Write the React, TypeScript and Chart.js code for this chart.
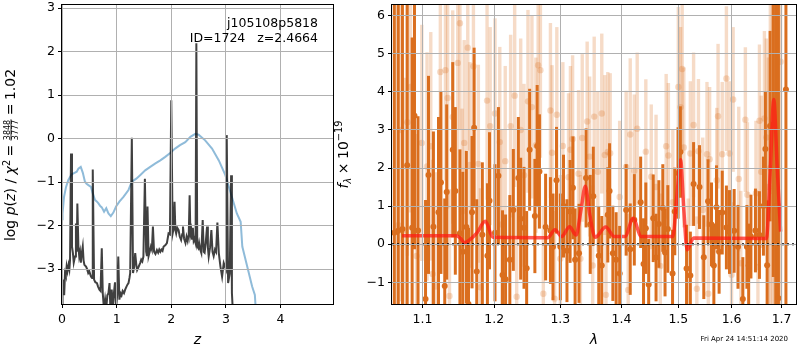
import React, { useEffect, useRef } from "react";
import { Chart, registerables } from "chart.js";

Chart.register(...registerables);

const FONT = '"DejaVu Sans", sans-serif';

// ---------------- Left panel: p(z) and chi2 ----------------
const pzZ = [
  0.0, 0.01, 0.025, 0.04, 0.055, 0.07, 0.085, 0.1, 0.12, 0.135, 0.147, 0.165, 0.183, 0.2, 0.215, 0.238,
  0.255, 0.27, 0.281, 0.3, 0.315, 0.33, 0.345, 0.36, 0.38, 0.395, 0.41, 0.44, 0.46, 0.48, 0.5, 0.53,
  0.55, 0.563, 0.587, 0.61, 0.64, 0.66, 0.685, 0.705, 0.728, 0.746, 0.77, 0.79, 0.81, 0.83, 0.85,
  0.87, 0.885, 0.91, 0.93, 0.95, 0.97, 0.99, 1.01, 1.03, 1.05, 1.07, 1.09, 1.11, 1.135, 1.156, 1.18,
  1.2, 1.217, 1.235, 1.248, 1.278, 1.3, 1.32, 1.34, 1.36, 1.375, 1.4, 1.43, 1.45, 1.47, 1.49, 1.517,
  1.54, 1.555, 1.565, 1.585, 1.605, 1.627, 1.645, 1.664, 1.685, 1.71, 1.737, 1.76, 1.78, 1.8, 1.82,
  1.84, 1.86, 1.89, 1.92, 1.95, 1.975, 2.0, 2.025, 2.045, 2.06, 2.075, 2.09, 2.11, 2.134, 2.155, 2.18,
  2.2, 2.214, 2.235, 2.26, 2.28, 2.3, 2.32, 2.336, 2.35, 2.365, 2.38, 2.395, 2.41, 2.425, 2.445, 2.459,
  2.475, 2.495, 2.51, 2.53, 2.55, 2.575, 2.595, 2.61, 2.63, 2.655, 2.67, 2.685, 2.71, 2.734, 2.755,
  2.776, 2.8, 2.82, 2.844, 2.87, 2.9, 2.93, 2.96, 2.985, 3.0, 3.015, 3.04, 3.07, 3.095, 3.11, 3.14,
];
const pzLog = [
  -3.9, -3.4, -3.24, -3.6, -3.09, -3.15, -2.94, -3.05, -2.9, -3.0, -2.79, -0.34, -2.48, -2.63, -2.85, -2.71,
  -1.95, -2.6, -1.49, -2.48, -2.7, -2.6, -2.85, -2.65, -2.48, -2.8, -2.9, -2.94, -3.0, -3.09, -3.05, -3.17,
  -3.2, -0.71, -3.24, -3.3, -3.32, -3.4, -3.47, -3.5, -2.52, -3.55, -3.95, -3.7, -3.9, -3.6, -3.55,
  -3.32, -3.9, -3.47, -3.9, -3.55, -3.3, -3.9, -3.6, -2.71, -3.7, -3.55, -3.6, -3.5, -3.55, -3.47, -3.4,
  -3.35, -3.32, -3.2, -3.09, 0.02, -3.09, -2.95, -2.63, -2.9, -3.02, -2.95, -2.86, -2.78, -2.82, -2.71, -0.92,
  -2.6, -2.7, -1.56, -2.7, -2.6, -2.48, -2.55, -2.02, -2.6, -2.65, -2.56, -2.62, -2.55, -2.6, -2.55,
  -2.58, -2.48, -2.45, -2.4, -2.18, -2.2, 0.88, -2.18, -2.05, -1.45, -2.1, -2.18, -2.05, -2.1, -2.25, -2.33,
  -2.2, -2.02, -2.3, -2.4, -2.25, -2.35, -2.2, -1.3, -2.2, -2.1, -2.3, -2.05, -2.35, -2.3, -2.4, 2.19,
  -2.48, -2.52, -2.4, -2.55, -2.63, -1.87, -2.6, -2.62, -2.4, -2.02, -2.5, -2.71, -2.5, -2.1, -2.6,
  -2.7, -2.55, -2.6, -1.93, -2.63, -2.94, -3.17, -2.86, -2.95, -3.0, 0.08, -3.32, -3.1, -0.84, -3.55, -4.3,
];
const chiZ = [
  0.0, 0.01, 0.037, 0.074, 0.116, 0.177, 0.238, 0.27, 0.3, 0.343, 0.38, 0.42, 0.45, 0.483, 0.53, 0.563,
  0.605, 0.64, 0.667, 0.7, 0.728, 0.77, 0.81, 0.85, 0.893, 0.94, 0.99, 1.05, 1.125, 1.217, 1.278, 1.36,
  1.43, 1.523, 1.615, 1.71, 1.8, 1.89, 1.98, 2.07, 2.16, 2.257, 2.35, 2.44, 2.5, 2.62, 2.746, 2.87,
  2.99, 3.11, 3.2, 3.27, 3.3, 3.39, 3.48, 3.53, 3.55,
];
const chiVal = [
  -1.85, -1.72, -1.34, -1.11, -0.95, -0.82, -0.78, -0.76, -0.69, -0.65, -0.78, -0.99, -1.04, -1.07, -1.11, -1.26,
  -1.41, -1.45, -1.49, -1.55, -1.58, -1.68, -1.6, -1.72, -1.78, -1.7, -1.56, -1.45, -1.34, -1.18, -0.99, -0.92,
  -0.84, -0.73, -0.65, -0.57, -0.5, -0.42, -0.33, -0.23, -0.15, -0.08, 0.04, 0.11, 0.09, -0.04, -0.23, -0.5,
  -0.84, -1.34, -1.72, -1.91, -2.48, -2.94, -3.4, -3.59, -4.0,
];
const zTicks = [0, 1, 2, 3, 4];
const pzTicks = [-3, -2, -1, 0, 1, 2, 3];

// ---------------- Right panel: spectrum ----------------
const darkWave = [
  1.063, 1.068, 1.0735, 1.0797, 1.0862, 1.0893, 1.094, 1.104, 1.108, 1.1146,
  1.1215, 1.1248, 1.13, 1.1327, 1.141, 1.1446, 1.151, 1.155, 1.16, 1.163,
  1.168, 1.171, 1.1747, 1.1827, 1.19, 1.193, 1.201, 1.206, 1.212, 1.2165,
  1.2228, 1.228, 1.2355, 1.239, 1.244, 1.248, 1.2525, 1.2605, 1.264, 1.2675,
  1.277, 1.2845, 1.2885, 1.294, 1.3, 1.305, 1.3105, 1.3155, 1.32, 1.3235,
  1.3298, 1.3412, 1.348, 1.353, 1.362, 1.367, 1.377, 1.38, 1.3855, 1.391,
  1.397, 1.408, 1.415, 1.422, 1.433, 1.438, 1.442, 1.447, 1.455, 1.46,
  1.465, 1.472, 1.476, 1.481, 1.4895, 1.4935, 1.4995, 1.5037, 1.515, 1.522,
  1.528, 1.539, 1.547, 1.555, 1.5615, 1.566, 1.571, 1.576, 1.582, 1.59,
  1.596, 1.605, 1.6125, 1.622, 1.63, 1.6335, 1.638, 1.647, 1.655, 1.663,
  1.667, 1.6705, 1.6765, 1.683, 1.688, 1.6935, 1.709,
];
const darkFlux = [
  0.3, 0.35, 0.4, 2.07, 0.43, 3.37, 0.36, -1.44, 1.82, 0.46,
  0.84, 1.62, -1.1, 1.37, 2.48, 1.4, 0.29, -0.2, 0.45, -1.57,
  0.84, 3.06, -0.72, 0.25, -0.3, 1.14, 0.3, 1.8, -0.81, -0.92,
  -0.41, 0.9, 1.74, 0.67, 0.43, -0.63, 2.48, 0.74, 2.58, 1.91,
  0.45, 0.36, -0.07, 1.68, -0.07, 1.0, -0.17, 0.86, 1.48, -0.41,
  -0.24, 1.74, 0.52, 1.26, -0.3, -0.56, 0.77, 1.4, -0.24, -0.41,
  -0.77, 0.9, -0.13, 0.64, 1.1, -0.52, 0.42, -1.06, 0.68, -0.35,
  0.53, 0.95, -0.22, 0.4, -0.77, 0.86, 1.87, 2.42, -0.64, -0.82,
  1.58, 1.5, -0.34, 1.13, 0.52, -0.56, 0.97, -0.2, 0.83, 0.44,
  0.32, 0.35, -0.07, -1.44, -0.07, -0.56, 0.2, 0.36, 0.24, 1.0,
  2.5, -0.55, 3.1, 3.14, 1.0, -1.42, 4.06,
];
const darkErr = [
  9.0, 9.0, 8.0, 4.5, 5.0, 3.5, 3.0, 2.6, 2.6, 2.5,
  2.5, 2.4, 2.3, 2.3, 2.3, 2.2, 2.2, 2.1, 2.0, 2.0,
  2.0, 2.1, 1.9, 1.9, 1.9, 1.8, 1.8, 1.8, 1.7, 1.7,
  1.7, 1.6, 1.6, 1.6, 1.6, 1.5, 1.6, 1.5, 1.6, 1.5,
  1.4, 1.4, 1.4, 1.4, 1.4, 1.35, 1.35, 1.35, 1.35, 1.35,
  1.3, 1.3, 1.3, 1.3, 1.3, 1.3, 1.25, 1.25, 1.25, 1.25,
  1.25, 1.2, 1.2, 1.2, 1.2, 1.2, 1.2, 1.2, 1.15, 1.15,
  1.15, 1.15, 1.15, 1.15, 1.15, 1.15, 1.2, 1.2, 1.15, 1.15,
  1.1, 1.1, 1.1, 1.1, 1.1, 1.1, 1.1, 1.1, 1.1, 1.1,
  1.1, 1.1, 1.1, 1.1, 1.1, 1.1, 1.1, 1.1, 1.15, 1.3,
  1.5, 1.7, 2.5, 4.0, 6.0, 8.0, 12.0,
];

const lightWave = [
  1.068, 1.072, 1.076, 1.08, 1.084, 1.092, 1.099, 1.106, 1.111, 1.1135,
  1.118, 1.124, 1.131, 1.134, 1.1365, 1.141, 1.148, 1.151, 1.154, 1.157,
  1.162, 1.165, 1.17, 1.177, 1.18, 1.1895, 1.194, 1.201, 1.208, 1.211,
  1.216, 1.224, 1.23, 1.233, 1.239, 1.244, 1.25, 1.256, 1.262, 1.2655,
  1.269, 1.2735, 1.2845, 1.287, 1.291, 1.2945, 1.3, 1.304, 1.313, 1.316,
  1.3195, 1.329, 1.332, 1.335, 1.343, 1.347, 1.352, 1.3545, 1.3605, 1.367,
  1.372, 1.374, 1.377, 1.381, 1.397, 1.408, 1.4115, 1.415, 1.422, 1.427,
  1.442, 1.4515, 1.46, 1.4675, 1.478, 1.482, 1.49, 1.5, 1.504, 1.507,
  1.51, 1.518, 1.522, 1.528, 1.534, 1.537, 1.545, 1.553, 1.5555, 1.558,
  1.5715, 1.574, 1.582, 1.59, 1.596, 1.6, 1.603, 1.614, 1.618, 1.627,
  1.631, 1.648, 1.652, 1.655, 1.6585, 1.665, 1.669, 1.673, 1.677, 1.681,
  1.685, 1.69, 1.694, 1.698,
];
const lightFlux = [
  0.5, 3.0, 0.37, 3.2, 4.13, -0.31, 2.66, 2.04, 2.57, -0.78,
  -1.11, 4.52, 4.57, 3.84, -1.36, 3.34, 4.76, 5.8, 0.86, 2.66,
  5.16, 2.08, 4.67, 2.11, -1.13, 3.77, 3.1, 3.43, 2.68, 0.52,
  2.18, 3.1, 3.9, -1.38, 3.0, 1.81, 3.75, 3.6, 2.6, 4.7,
  4.57, -1.3, 3.51, 2.4, -1.43, 3.4, -0.38, 2.58, 1.76, 2.48,
  2.76, 1.85, -0.38, 2.79, 3.22, 2.3, -0.56, 3.35, 1.9, 3.43,
  2.34, -1.33, 2.42, 2.39, 1.24, 2.03, -1.2, 2.88, 1.93, 3.03,
  2.43, 1.77, 1.5, -0.57, 2.57, 2.33, 1.1, 4.13, 3.6, 4.6,
  2.54, -0.7, 2.38, 3.13, -1.17, 2.44, 0.9, 2.36, -1.3, 2.23,
  1.68, 3.36, 2.36, 4.35, 2.38, -0.8, 3.8, 1.71, -0.5, 3.27,
  1.3, 1.34, -0.6, 3.24, 1.9, 3.3, 2.8, 1.5, 2.0, 1.4,
  2.0, 4.9, 1.0, 4.79,
];
const lightErr = [
  6.0, 4.5, 4.0, 3.5, 3.3, 3.2, 3.1, 3.0, 3.0, 3.0,
  3.0, 2.9, 2.9, 2.9, 2.8, 2.8, 2.8, 2.8, 2.7, 2.7,
  2.7, 2.7, 2.6, 2.6, 2.6, 2.6, 2.6, 2.5, 2.5, 2.5,
  2.5, 2.4, 2.4, 2.4, 2.4, 2.4, 2.4, 2.4, 2.3, 2.3,
  2.3, 2.3, 2.3, 2.3, 2.3, 2.3, 2.2, 2.2, 2.2, 2.2,
  2.2, 2.2, 2.2, 2.2, 2.1, 2.1, 2.1, 2.1, 2.1, 2.1,
  2.1, 2.1, 2.1, 2.1, 2.0, 2.0, 2.0, 2.0, 2.0, 2.0,
  1.9, 1.9, 1.9, 1.9, 1.9, 1.9, 1.9, 2.1, 2.1, 2.2,
  2.1, 1.9, 1.9, 1.9, 1.9, 1.9, 1.9, 1.9, 1.9, 1.9,
  1.9, 1.9, 1.9, 1.9, 1.9, 1.9, 1.9, 1.9, 1.9, 1.9,
  1.9, 1.9, 2.0, 2.0, 2.0, 2.3, 2.6, 3.4, 5.0, 7.0,
  9.0, 10.0, 10.0, 10.0,
];

const modelWave = [
  1.073, 1.146, 1.152, 1.157, 1.165, 1.175, 1.187, 1.198, 1.28, 1.2917, 1.302, 1.3147, 1.325,
  1.333, 1.34, 1.347, 1.356, 1.3736, 1.388, 1.406, 1.42, 1.434, 1.49, 1.497, 1.504, 1.51, 1.516,
  1.528, 1.669, 1.677, 1.684, 1.691, 1.698,
];
const modelFlux = [
  0.22, 0.22, 0.15, 0.04, 0.12, 0.3, 0.6, 0.18, 0.17, 0.38, 0.2, 0.46, 0.24,
  0.9, 1.52, 0.8, 0.18, 0.45, 0.2, 0.2, 0.68, 0.2, 0.2, 1.2, 2.22, 0.9, -0.15,
  0.16, 0.15, 2.0, 3.8, 2.0, 0.33,
];
const lamTicks = [1.1, 1.2, 1.3, 1.4, 1.5, 1.6, 1.7];
const fluxTicks = [-1, 0, 1, 2, 3, 4, 5, 6];

const objName = "j105108p5818";
const objInfo = "ID=1724   z=2.4664";
const stamp = "Fri Apr 24 14:51:14 2020";

// ---------------- helpers ----------------
const fmt = (v: number) => (v < 0 ? "\u2212" + String(Math.abs(v)) : String(v));

const DARK = "rgb(218,110,30)";
const LIGHT = "rgba(218,110,30,0.25)";

const framePlugin = {
  id: "frame",
  afterDraw(chart: any) {
    const { ctx, chartArea: a } = chart;
    ctx.save();
    ctx.strokeStyle = "#000";
    ctx.lineWidth = 1;
    ctx.strokeRect(
      Math.round(a.left) - 0.5,
      Math.round(a.top) - 0.5,
      Math.round(a.right - a.left) + 1,
      Math.round(a.bottom - a.top) + 1
    );
    ctx.restore();
  },
};

const errorBarPlugin = {
  id: "errbars",
  beforeDatasetDraw(chart: any, args: any) {
    const ds: any = chart.data.datasets[args.index];
    if (!ds.errs) return;
    const { ctx, chartArea: a, scales } = chart;
    const xs = scales.x;
    const ys = scales.y;
    ctx.save();
    ctx.beginPath();
    ctx.rect(a.left, a.top, a.right - a.left, a.bottom - a.top);
    ctx.clip();
    ctx.strokeStyle = ds.errColor;
    ctx.lineWidth = ds.errWidth;
    ctx.lineCap = "butt";
    ds.data.forEach((p: any, i: number) => {
      const x = xs.getPixelForValue(p.x);
      const y1 = ys.getPixelForValue(p.y - ds.errs[i]);
      const y2 = ys.getPixelForValue(p.y + ds.errs[i]);
      ctx.beginPath();
      ctx.moveTo(x, y1);
      ctx.lineTo(x, y2);
      ctx.stroke();
    });
    ctx.restore();
  },
};

type Piece = { t?: string; font?: string; dy?: number; gap?: number; frac?: [string, string] };

function drawVertical(ctx: CanvasRenderingContext2D, pieces: Piece[], baseX: number, centerY: number) {
  const FR = `8px ${FONT}`;
  ctx.save();
  ctx.translate(baseX, centerY);
  ctx.rotate(-Math.PI / 2);
  ctx.fillStyle = "#000";
  ctx.textBaseline = "alphabetic";
  ctx.textAlign = "left";
  const widths = pieces.map((p) => {
    if (p.frac) {
      ctx.font = FR;
      return Math.max(ctx.measureText(p.frac[0]).width, ctx.measureText(p.frac[1]).width) + 2;
    }
    ctx.font = p.font as string;
    return ctx.measureText(p.t as string).width;
  });
  const total = pieces.reduce((s, p, i) => s + widths[i] + (p.gap || 0), 0);
  let c = -total / 2;
  pieces.forEach((p, i) => {
    const w = widths[i];
    if (p.frac) {
      ctx.font = FR;
      ctx.textAlign = "center";
      ctx.fillText(p.frac[0], c + w / 2, -5.4);
      ctx.fillText(p.frac[1], c + w / 2, 2.9);
      ctx.fillRect(c + 0.5, -4.4, w - 1, 0.8);
      ctx.textAlign = "left";
    } else {
      ctx.font = p.font as string;
      ctx.fillText(p.t as string, c, p.dy || 0);
    }
    c += w + (p.gap || 0);
  });
  ctx.restore();
}

const R14 = `14px ${FONT}`;
const I14 = `italic 14px ${FONT}`;
const S10 = `9.8px ${FONT}`;
const IS10 = `italic 9.8px ${FONT}`;

const leftTextPlugin = {
  id: "leftText",
  afterDraw(chart: any) {
    const ctx: CanvasRenderingContext2D = chart.ctx;
    const a = chart.chartArea;
    ctx.save();
    ctx.fillStyle = "#000";
    ctx.font = `12.5px ${FONT}`;
    ctx.textAlign = "right";
    ctx.textBaseline = "alphabetic";
    ctx.fillText(objName, 318, 26.5);
    ctx.fillText(objInfo, 318, 41.5);
    ctx.font = I14;
    ctx.textAlign = "center";
    ctx.fillText("z", (a.left + a.right) / 2, 344);
    ctx.restore();
    drawVertical(
      ctx,
      [
        { t: "log", font: R14, gap: 4.5 },
        { t: "p", font: I14 },
        { t: "(", font: R14 },
        { t: "z", font: I14 },
        { t: ")", font: R14, gap: 4.5 },
        { t: "/", font: R14, gap: 4.5 },
        { t: "\u03c7", font: I14 },
        { t: "2", font: S10, dy: -5.5, gap: 3.5 },
        { t: "=", font: R14, gap: 3.5 },
        { frac: ["3848", "3777"], gap: 3.5 },
        { t: "=", font: R14, gap: 3.5 },
        { t: "1.02", font: R14 },
      ],
      15,
      155
    );
  },
};

const rightTextPlugin = {
  id: "rightText",
  afterDraw(chart: any) {
    const ctx: CanvasRenderingContext2D = chart.ctx;
    const a = chart.chartArea;
    ctx.save();
    ctx.fillStyle = "#000";
    ctx.font = I14;
    ctx.textAlign = "center";
    ctx.textBaseline = "alphabetic";
    ctx.fillText("\u03bb", (a.left + a.right) / 2, 344);
    ctx.font = `7px ${FONT}`;
    ctx.textAlign = "right";
    ctx.fillText(stamp, 458, 341);
    ctx.restore();
    drawVertical(
      ctx,
      [
        { t: "f", font: I14 },
        { t: "\u03bb", font: IS10, dy: 3, gap: 3.5 },
        { t: "\u00d7", font: R14, gap: 3.5 },
        { t: "10", font: R14 },
        { t: "\u221219", font: S10, dy: -6 },
      ],
      18,
      154.5
    );
  },
};

const gridOpts = {
  color: "#b0b0b0",
  lineWidth: 1,
  z: 1,
  tickColor: "#000",
  tickLength: 4,
  tickWidth: 1,
  drawTicks: true,
};

function xAxis(extra: any, tickVals: number[], cb: (v: number) => string) {
  return {
    ...extra,
    afterBuildTicks: (s: any) => {
      s.ticks = tickVals.map((v) => ({ value: v }));
    },
    afterFit: (s: any) => {
      s.height = 46;
      s.paddingLeft = 0;
      s.paddingRight = 0;
    },
    grid: gridOpts,
    border: { display: false },
    ticks: {
      autoSkip: false,
      maxRotation: 0,
      padding: 4.5,
      color: "#000",
      font: { family: FONT, size: 12.5 },
      callback: (v: any) => cb(Number(v)),
    },
  };
}

function yAxis(extra: any, tickVals: number[], width: number) {
  return {
    ...extra,
    afterBuildTicks: (s: any) => {
      s.ticks = tickVals.map((v) => ({ value: v }));
    },
    afterFit: (s: any) => {
      s.width = width;
      s.paddingTop = 0;
      s.paddingBottom = 0;
    },
    grid: gridOpts,
    border: { display: false },
    ticks: {
      autoSkip: false,
      padding: 3,
      color: "#000",
      font: { family: FONT, size: 12.5 },
      callback: (v: any) => fmt(Number(v)),
    },
  };
}

export default function App() {
  const leftRef = useRef<HTMLCanvasElement>(null);
  const rightRef = useRef<HTMLCanvasElement>(null);

  useEffect(() => {
    document.body.style.margin = "0";

    const left = new Chart(leftRef.current as HTMLCanvasElement, {
      type: "line",
      data: {
        datasets: [
          {
            data: pzZ.map((z, i) => ({ x: z, y: pzLog[i] })),
            borderColor: "rgba(0,0,0,0.75)",
            borderWidth: 2,
            pointRadius: 0,
            tension: 0,
            order: 1,
          },
          {
            data: chiZ.map((z, i) => ({ x: z, y: chiVal[i] })),
            borderColor: "rgba(31,119,180,0.5)",
            borderWidth: 2,
            pointRadius: 0,
            tension: 0,
            order: 2,
          },
        ],
      },
      options: {
        animation: false,
        responsive: false,
        devicePixelRatio: 1,
        events: [],
        layout: { padding: { left: 0, right: 1, top: 5, bottom: 0 } },
        plugins: { legend: { display: false }, tooltip: { enabled: false } },
        scales: {
          x: xAxis({ type: "linear", min: 0, max: 4.96 }, zTicks, (v) => fmt(v)),
          y: yAxis({ type: "linear", min: -3.8, max: 3.07 }, pzTicks, 62),
        },
      } as any,
      plugins: [framePlugin, leftTextPlugin],
    });

    const right = new Chart(rightRef.current as HTMLCanvasElement, {
      type: "scatter",
      data: {
        datasets: [
          {
            data: [
              { x: 1.06, y: 0 },
              { x: 1.73, y: 0 },
            ],
            showLine: true,
            borderColor: "#000",
            borderWidth: 2,
            borderDash: [2, 3],
            pointRadius: 0,
            order: 1,
          },
          {
            data: modelWave.map((w, i) => ({ x: w, y: modelFlux[i] })),
            showLine: true,
            borderColor: "rgba(255,25,20,0.72)",
            borderWidth: 3.5,
            cubicInterpolationMode: "monotone",
            pointRadius: 0,
            order: 2,
          },
          {
            data: darkWave.map((w, i) => ({ x: w, y: darkFlux[i] })),
            errs: darkErr,
            errColor: DARK,
            errWidth: 3,
            pointRadius: 3,
            pointBackgroundColor: DARK,
            pointBorderWidth: 0,
            order: 3,
          },
          {
            data: lightWave.map((w, i) => ({ x: w, y: lightFlux[i] })),
            errs: lightErr,
            errColor: LIGHT,
            errWidth: 3.4,
            pointRadius: 3.2,
            pointBackgroundColor: LIGHT,
            pointBorderWidth: 0,
            order: 4,
          },
        ] as any,
      },
      options: {
        animation: false,
        responsive: false,
        devicePixelRatio: 1,
        events: [],
        layout: { padding: { left: 0, right: 1, top: 5, bottom: 0 } },
        plugins: { legend: { display: false }, tooltip: { enabled: false } },
        scales: {
          x: xAxis({ type: "logarithmic", min: 1.06, max: 1.73 }, lamTicks, (v) => v.toFixed(1)),
          y: yAxis({ type: "linear", min: -1.57, max: 6.28 }, fluxTicks, 62),
        },
      } as any,
      plugins: [errorBarPlugin, framePlugin, rightTextPlugin],
    });

    return () => {
      left.destroy();
      right.destroy();
    };
  }, []);

  return (
    <div style={{ position: "relative", width: 800, height: 350, background: "#fff" }}>
      <canvas ref={leftRef} width={334} height={350} style={{ position: "absolute", left: 0, top: 0 }} />
      <canvas ref={rightRef} width={470} height={350} style={{ position: "absolute", left: 330, top: 0 }} />
    </div>
  );
}
